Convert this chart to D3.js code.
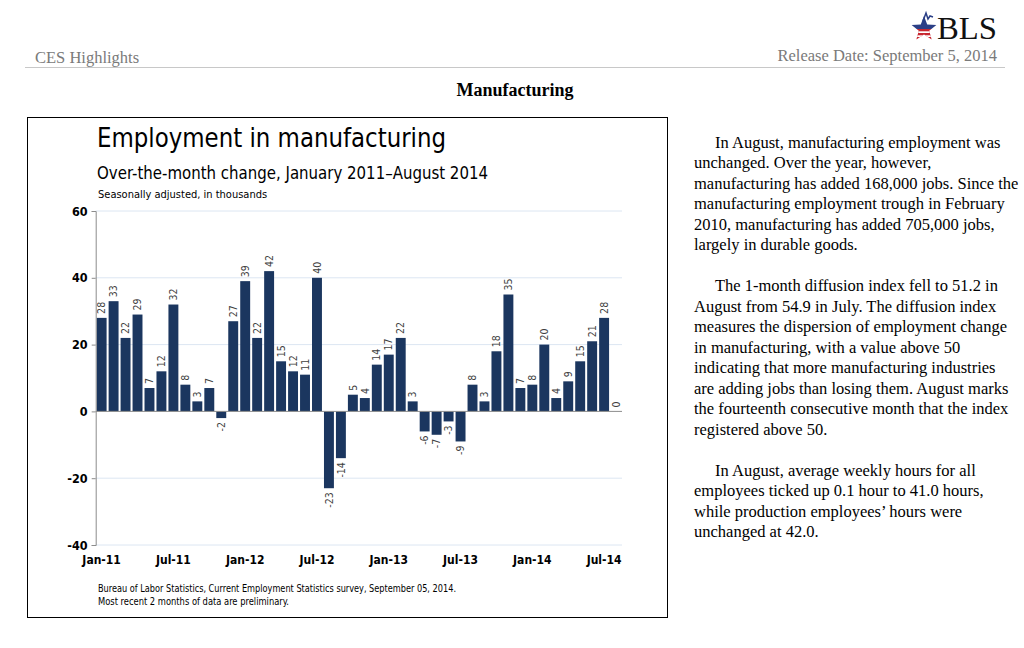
<!DOCTYPE html>
<html>
<head>
<meta charset="utf-8">
<script src="https://cdn.jsdelivr.net/npm/d3@7"></script>
<style>
  html, body { margin: 0; padding: 0; background: #fff; }
  svg { display: block; }
</style>
</head>
<body>
<svg id="page" width="1024" height="648"></svg>
<script>
// ---------- DATA ----------
const months = [
  "Jan-11","Feb-11","Mar-11","Apr-11","May-11","Jun-11","Jul-11","Aug-11","Sep-11","Oct-11","Nov-11","Dec-11",
  "Jan-12","Feb-12","Mar-12","Apr-12","May-12","Jun-12","Jul-12","Aug-12","Sep-12","Oct-12","Nov-12","Dec-12",
  "Jan-13","Feb-13","Mar-13","Apr-13","May-13","Jun-13","Jul-13","Aug-13","Sep-13","Oct-13","Nov-13","Dec-13",
  "Jan-14","Feb-14","Mar-14","Apr-14","May-14","Jun-14","Jul-14","Aug-14"
];
const changes = [
  28, 33, 22, 29, 7, 12, 32, 8, 3, 7, -2, 27,
  39, 22, 42, 15, 12, 11, 40, -23, -14, 5, 4, 14,
  17, 22, 3, -6, -7, -3, -9, 8, 3, 18, 35, 7,
  8, 20, 4, 9, 15, 21, 28, 0
];
const xTickLabels = ["Jan-11","Jul-11","Jan-12","Jul-12","Jan-13","Jul-13","Jan-14","Jul-14"];
const yTicks = [-40, -20, 0, 20, 40, 60];

const chartTitle = "Employment in manufacturing";
const chartSubtitle = "Over-the-month change, January 2011\u2013August 2014";
const chartUnits = "Seasonally adjusted, in thousands";
const chartNotes = [
  "Bureau of Labor Statistics, Current Employment Statistics survey, September 05, 2014.",
  "Most recent 2 months of data are preliminary."
];
const paragraphs = [
  ["In August, manufacturing employment was",
   "unchanged. Over the year, however,",
   "manufacturing has added 168,000 jobs. Since the",
   "manufacturing employment trough in February",
   "2010, manufacturing has added 705,000 jobs,",
   "largely in durable goods."],
  ["The 1-month diffusion index fell to 51.2 in",
   "August from 54.9 in July. The diffusion index",
   "measures the dispersion of employment change",
   "in manufacturing, with a value above 50",
   "indicating that more manufacturing industries",
   "are adding jobs than losing them. August marks",
   "the fourteenth consecutive month that the index",
   "registered above 50."],
  ["In August, average weekly hours for all",
   "employees ticked up 0.1 hour to 41.0 hours,",
   "while production employees\u2019 hours were",
   "unchanged at 42.0."]
];

// ---------- PAGE ----------
const svg = d3.select("#page");
const serif = "'Liberation Serif', 'Times New Roman', serif";
const sans = "Tahoma, 'DejaVu Sans Condensed', 'DejaVu Sans', sans-serif";

// header
svg.append("text").attr("x", 35).attr("y", 63)
  .attr("font-family", serif).attr("font-size", 16.5).attr("fill", "#7a7a7a")
  .text("CES Highlights");
svg.append("text").attr("x", 997).attr("y", 61).attr("text-anchor", "end")
  .attr("font-family", serif).attr("font-size", 16.5).attr("fill", "#7a7a7a")
  .text("Release Date: September 5, 2014");
svg.append("line").attr("x1", 25).attr("x2", 1005).attr("y1", 67.5).attr("y2", 67.5)
  .attr("stroke", "#c8c8c8").attr("stroke-width", 1);

// BLS logo
const logo = svg.append("g").attr("transform", "translate(924,29)");
const starPts = d3.range(10).map(i => {
  const r = i % 2 === 0 ? 13 : 5.5;
  const a = -Math.PI / 2 + i * Math.PI / 5;
  return [r * Math.cos(a), r * Math.sin(a)];
});
logo.append("clipPath").attr("id", "starclip").append("polygon").attr("points", starPts.map(p => p.join(",")).join(" "));
const sg = logo.append("g").attr("clip-path", "url(#starclip)");
sg.append("rect").attr("x", -14).attr("y", -14).attr("width", 28).attr("height", 14).attr("fill", "#2b3f86");
sg.append("rect").attr("x", -14).attr("y", 0).attr("width", 28).attr("height", 14).attr("fill", "#c8262f");
[2.3, 6.3, 10.3].forEach(o => sg.append("rect").attr("x", -14).attr("y", o).attr("width", 28).attr("height", 1.7).attr("fill", "#ffffff"));
logo.append("path").attr("d", "M-1,-8 L2,-16 L4,-10 L6,-13 L9,-12").attr("fill", "none").attr("stroke", "#2b3f86").attr("stroke-width", 1.5);
svg.append("text").attr("x", 997).attr("y", 39).attr("text-anchor", "end")
  .attr("font-family", serif).attr("font-size", 31).attr("fill", "#111")
  .attr("textLength", 60).attr("lengthAdjust", "spacingAndGlyphs")
  .text("BLS");

// section title
svg.append("text").attr("x", 515).attr("y", 96).attr("text-anchor", "middle")
  .attr("font-family", serif).attr("font-size", 18).attr("font-weight", "bold").attr("fill", "#000")
  .text("Manufacturing");

// right-hand paragraphs
const textG = svg.append("g").attr("font-family", serif).attr("font-size", 16.5).attr("fill", "#000");
let baseY = 147.5;
const lh = 20.5;
paragraphs.forEach(p => {
  p.forEach((line, i) => {
    textG.append("text").attr("x", i === 0 ? 715 : 694).attr("y", baseY).text(line);
    baseY += lh;
  });
  baseY += lh;
});

// ---------- CHART ----------
svg.append("rect").attr("x", 27.5).attr("y", 117.5).attr("width", 640).attr("height", 500)
  .attr("fill", "#fff").attr("stroke", "#000").attr("stroke-width", 1);

svg.append("text").attr("x", 97).attr("y", 147)
  .attr("font-family", sans).attr("font-size", 27).attr("fill", "#000")
  .attr("textLength", 349).attr("lengthAdjust", "spacingAndGlyphs").text(chartTitle);
svg.append("text").attr("x", 97).attr("y", 179)
  .attr("font-family", sans).attr("font-size", 17.5).attr("fill", "#000")
  .attr("textLength", 391).attr("lengthAdjust", "spacingAndGlyphs").text(chartSubtitle);
svg.append("text").attr("x", 98).attr("y", 198)
  .attr("font-family", sans).attr("font-size", 11).attr("fill", "#000").text(chartUnits);

const x = d3.scaleBand().domain(months).range([95.7, 622]).paddingInner(0.17).paddingOuter(0.08);
const y = d3.scaleLinear().domain([-40, 60]).range([545, 211]);

const plot = svg.append("g");

// gridlines
plot.selectAll(".grid").data(yTicks.filter(d => d !== 0)).join("line")
  .attr("x1", 95.7).attr("x2", 622).attr("y1", d => y(d)).attr("y2", d => y(d))
  .attr("stroke", "#dce6f2").attr("stroke-width", 1);

// bars
plot.selectAll(".bar").data(changes).join("rect")
  .attr("x", (d, i) => x(months[i]))
  .attr("width", x.bandwidth())
  .attr("y", d => y(Math.max(0, d)))
  .attr("height", d => Math.abs(y(d) - y(0)))
  .attr("fill", "#1b365f");

// zero line
plot.append("line").attr("x1", 95.7).attr("x2", 622).attr("y1", y(0)).attr("y2", y(0))
  .attr("stroke", "#8c8c8c").attr("stroke-width", 1);

// value labels
plot.selectAll(".vl").data(changes).join("text")
  .attr("transform", (d, i) => {
    const cx = x(months[i]) + x.bandwidth() / 2;
    const cy = d >= 0 ? y(d) - 4 : y(d) + 4;
    return `translate(${cx},${cy}) rotate(-90)`;
  })
  .attr("text-anchor", d => d >= 0 ? "start" : "end")
  .attr("dy", "0.35em")
  .attr("font-family", sans).attr("font-size", 10.5).attr("fill", "#404040")
  .text(d => String(d));

// y axis
const yAxis = d3.axisLeft(y).tickValues(yTicks).tickSize(4).tickPadding(4).tickFormat(d => String(d));
const yg = svg.append("g").attr("transform", "translate(95.7,0)").call(yAxis);
yg.select(".domain").attr("stroke", "#8c8c8c");
yg.selectAll(".tick line").attr("stroke", "#8c8c8c");
yg.selectAll(".tick text").attr("font-family", sans).attr("font-size", 12.5)
  .attr("font-weight", "bold").attr("fill", "#000");

// x axis
const xAxis = d3.axisBottom(x).tickValues(xTickLabels).tickSize(0).tickPadding(10);
const xg = svg.append("g").attr("transform", `translate(0,${y(-40)})`).call(xAxis);
xg.select(".domain").remove();
xg.selectAll(".tick text").attr("font-family", sans).attr("font-size", 12)
  .attr("font-weight", "bold").attr("fill", "#000");

// notes
const noteLens = [358, 191];
chartNotes.forEach((n, i) => {
  svg.append("text").attr("x", 98).attr("y", 592 + i * 13)
    .attr("font-family", sans).attr("font-size", 10).attr("fill", "#000")
    .attr("textLength", noteLens[i]).attr("lengthAdjust", "spacingAndGlyphs").text(n);
});
</script>
</body>
</html>
